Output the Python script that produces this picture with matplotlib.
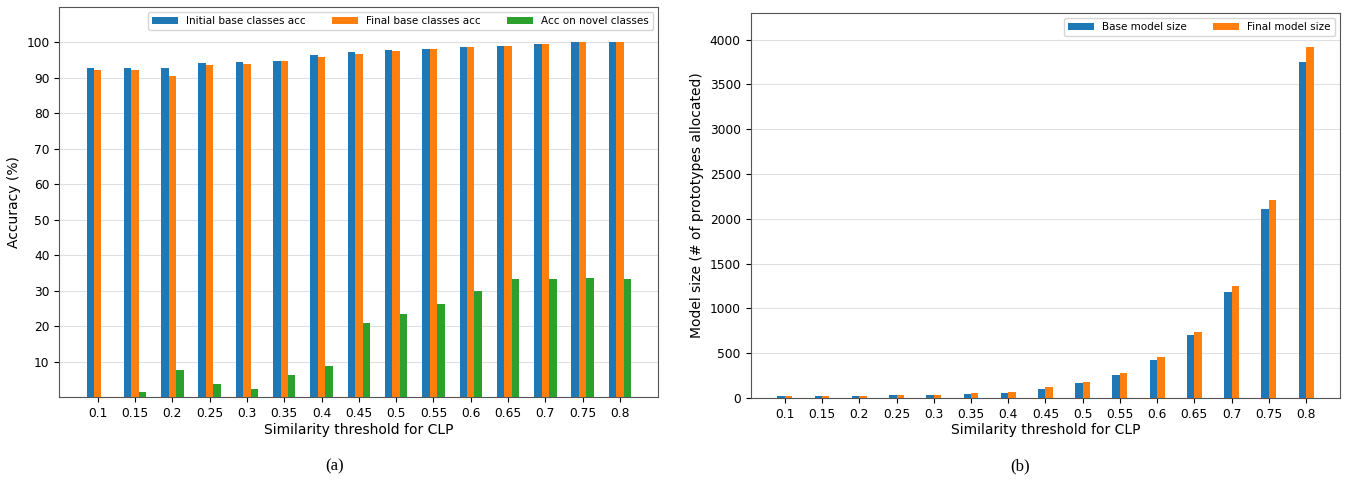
import matplotlib
matplotlib.use("Agg")
import matplotlib.pyplot as plt
import numpy as np

thresholds = ['0.1', '0.15', '0.2', '0.25', '0.3', '0.35', '0.4', '0.45',
              '0.5', '0.55', '0.6', '0.65', '0.7', '0.75', '0.8']

# accuracy (%) per threshold
initial_base_acc = [92.6, 92.6, 92.6, 94.2, 94.4, 94.8, 96.4, 97.2,
                    97.9, 98.1, 98.7, 98.9, 99.6, 100.0, 100.0]
final_base_acc = [92.3, 92.3, 90.5, 93.5, 93.9, 94.6, 95.9, 96.6,
                  97.6, 98.1, 98.7, 98.9, 99.6, 100.0, 100.0]
novel_acc = [0.0, 1.6, 7.7, 3.8, 2.3, 6.4, 8.9, 21.0,
             23.6, 26.3, 29.9, 33.4, 33.4, 33.7, 33.4]

# number of prototypes allocated
base_model_size = [19, 19, 20, 30, 30, 41, 60, 97,
                   168, 257, 425, 705, 1178, 2110, 3754]
final_model_size = [20, 20, 21, 30, 30, 52, 71, 119,
                    179, 276, 455, 742, 1249, 2212, 3922]

x = np.arange(len(thresholds))
w = 0.2

fig = plt.figure(figsize=(13.48, 4.83), dpi=100)
ax1 = fig.add_axes([0.044, 0.1774, 0.4444, 0.8087])
ax2 = fig.add_axes([0.5568, 0.176, 0.4375, 0.7977])

# (a) accuracy
ax1.bar(x - w, initial_base_acc, w, color='tab:blue', label='Initial base classes acc', zorder=3)
ax1.bar(x, final_base_acc, w, color='tab:orange', label='Final base classes acc', zorder=3)
ax1.bar(x + w, novel_acc, w, color='tab:green', label='Acc on novel classes', zorder=3)
ax1.set_ylim(0, 110)
ax1.set_yticks(range(10, 101, 10))
ax1.set_xlim(-1.03, 15.03)
ax1.set_xticks(x)
ax1.set_xticklabels(thresholds)
ax1.set_ylabel('Accuracy (%)', fontsize=10)
ax1.set_xlabel('Similarity threshold for CLP', fontsize=10, labelpad=2)
ax1.grid(axis='y', color='#e0e0e0', zorder=0)
ax1.legend(loc='upper right', ncol=3, fontsize=7.5, handlelength=2.5, columnspacing=2.5)

# (b) model size
ax2.bar(x - w / 2, base_model_size, w, color='tab:blue', label='Base model size', zorder=3)
ax2.bar(x + w / 2, final_model_size, w, color='tab:orange', label='Final model size', zorder=3)
ax2.set_ylim(0, 4300)
ax2.set_xlim(-0.92, 14.92)
ax2.set_xticks(x)
ax2.set_xticklabels(thresholds)
ax2.set_ylabel('Model size (# of prototypes allocated)', fontsize=10)
ax2.set_xlabel('Similarity threshold for CLP', fontsize=10, labelpad=2)
ax2.grid(axis='y', color='#e0e0e0', zorder=0)
ax2.legend(loc='upper right', ncol=2, fontsize=7.5, handlelength=2.5, columnspacing=2.5)

for ax in (ax1, ax2):
    ax.tick_params(labelsize=8.8)
    for s in ax.spines.values():
        s.set_color('#555555')

fig.text(0.248, 0.027, '(a)', family='Liberation Serif', fontsize=12, ha='center')
fig.text(0.757, 0.027, '(b)', family='Liberation Serif', fontsize=12, ha='center')

fig.savefig('out.png', dpi=100)
